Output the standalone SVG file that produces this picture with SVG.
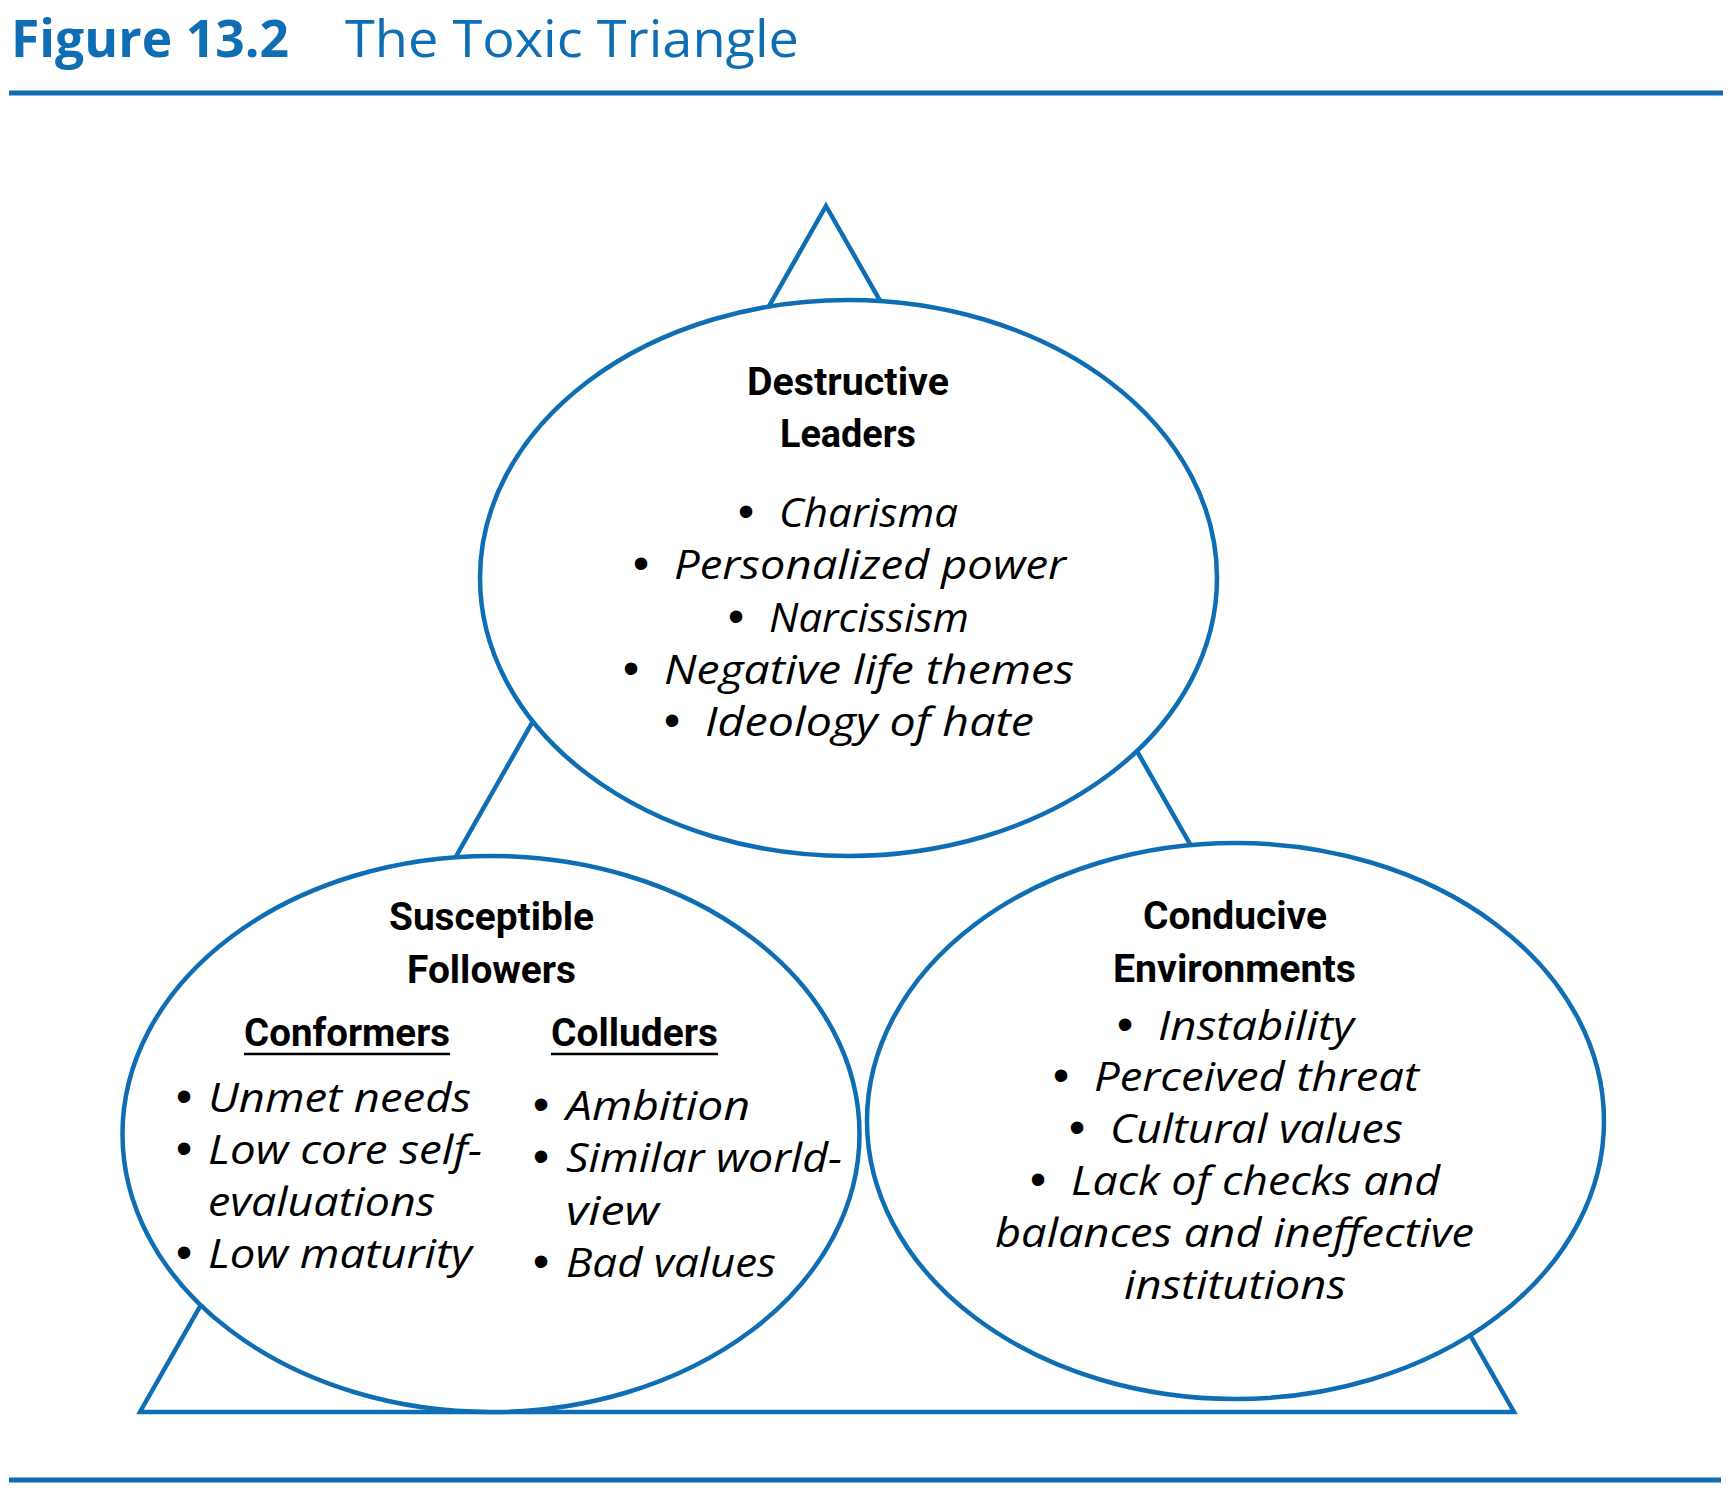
<svg xmlns="http://www.w3.org/2000/svg" width="1730" height="1490" viewBox="0 0 1730 1490">
  <style>
    .rule { stroke: #0f6db4; stroke-width: 5; }
    .title-num { font-family: "Open Sans", "Noto Sans", sans-serif; font-weight: 700; font-size: 52px; fill: #0f6db4; }
    .title-txt { font-family: "Open Sans", "Noto Sans", sans-serif; font-weight: 400; font-size: 52px; fill: #0f6db4; }
    .shape { fill: #ffffff; stroke: #0f6db4; stroke-width: 4.5; }
    .tri { fill: none; stroke: #0f6db4; stroke-width: 4.5; stroke-linejoin: miter; }
    .head { font-family: Roboto, "Liberation Sans", sans-serif; font-weight: 700; font-size: 39px; fill: #000; }
    .item { font-family: "Open Sans", "Noto Sans", sans-serif; font-style: italic; font-size: 41px; fill: #000; }
    .dot { font-family: "Liberation Sans", Arial, sans-serif; font-size: 46px; fill: #000; text-anchor: middle; }
    .ul { stroke: #000; stroke-width: 2.5; }
  </style>

  <rect width="1730" height="1490" fill="#ffffff"/>

  <!-- heading -->
  <g id="heading">
    <text class="title-num" x="11" y="57" textLength="278" lengthAdjust="spacingAndGlyphs">Figure 13.2</text>
    <text class="title-txt" x="345" y="57" textLength="454" lengthAdjust="spacingAndGlyphs">The Toxic Triangle</text>
    <line class="rule" x1="9" y1="93" x2="1723" y2="93"/>
  </g>

  <!-- triangle linking the three ellipses -->
  <g id="connectors">
    <polygon class="tri" points="826,206 1514,1412 140,1412"/>
  </g>

  <!-- top: destructive leaders -->
  <g id="node-leaders">
    <ellipse class="shape" cx="848.5" cy="578" rx="368.5" ry="278"/>
    <text class="head" x="747" y="395" textLength="202" lengthAdjust="spacingAndGlyphs">Destructive</text>
    <text class="head" x="780" y="447" textLength="136" lengthAdjust="spacingAndGlyphs">Leaders</text>
    <text class="dot" x="746" y="527">•</text>
    <text class="item" x="779" y="527" textLength="179" lengthAdjust="spacingAndGlyphs">Charisma</text>
    <text class="dot" x="641" y="579">•</text>
    <text class="item" x="674" y="579" textLength="392" lengthAdjust="spacingAndGlyphs">Personalized power</text>
    <text class="dot" x="736" y="632">•</text>
    <text class="item" x="769" y="632" textLength="200" lengthAdjust="spacingAndGlyphs">Narcissism</text>
    <text class="dot" x="631" y="684">•</text>
    <text class="item" x="664" y="684" textLength="410" lengthAdjust="spacingAndGlyphs">Negative life themes</text>
    <text class="dot" x="672" y="736">•</text>
    <text class="item" x="705" y="736" textLength="329" lengthAdjust="spacingAndGlyphs">Ideology of hate</text>
  </g>

  <!-- bottom left: susceptible followers -->
  <g id="node-followers">
    <ellipse class="shape" cx="491" cy="1134" rx="368.5" ry="278"/>
    <text class="head" x="389" y="930" textLength="205" lengthAdjust="spacingAndGlyphs">Susceptible</text>
    <text class="head" x="407" y="983" textLength="169" lengthAdjust="spacingAndGlyphs">Followers</text>

    <text class="head" x="244" y="1046" textLength="206" lengthAdjust="spacingAndGlyphs">Conformers</text>
    <line class="ul" x1="244" y1="1054" x2="450" y2="1054"/>
    <text class="head" x="551" y="1046" textLength="167" lengthAdjust="spacingAndGlyphs">Colluders</text>
    <line class="ul" x1="551" y1="1054" x2="718" y2="1054"/>

    <text class="dot" x="184" y="1112">•</text>
    <text class="item" x="208" y="1112" textLength="263" lengthAdjust="spacingAndGlyphs">Unmet needs</text>
    <text class="dot" x="184" y="1164">•</text>
    <text class="item" x="208" y="1164" textLength="274" lengthAdjust="spacingAndGlyphs">Low core self-</text>
    <text class="item" x="208" y="1216" textLength="227" lengthAdjust="spacingAndGlyphs">evaluations</text>
    <text class="dot" x="184" y="1268">•</text>
    <text class="item" x="208" y="1268" textLength="264" lengthAdjust="spacingAndGlyphs">Low maturity</text>

    <text class="dot" x="541" y="1120">•</text>
    <text class="item" x="566" y="1120" textLength="184" lengthAdjust="spacingAndGlyphs">Ambition</text>
    <text class="dot" x="541" y="1172">•</text>
    <text class="item" x="566" y="1172" textLength="276" lengthAdjust="spacingAndGlyphs">Similar world-</text>
    <text class="item" x="566" y="1225" textLength="93" lengthAdjust="spacingAndGlyphs">view</text>
    <text class="dot" x="541" y="1277">•</text>
    <text class="item" x="566" y="1277" textLength="210" lengthAdjust="spacingAndGlyphs">Bad values</text>
  </g>

  <!-- bottom right: conducive environments -->
  <g id="node-environments">
    <ellipse class="shape" cx="1235.5" cy="1121" rx="368.5" ry="278"/>
    <text class="head" x="1143" y="929" textLength="184" lengthAdjust="spacingAndGlyphs">Conducive</text>
    <text class="head" x="1113" y="982" textLength="243" lengthAdjust="spacingAndGlyphs">Environments</text>
    <text class="dot" x="1125" y="1040">•</text>
    <text class="item" x="1158" y="1040" textLength="196" lengthAdjust="spacingAndGlyphs">Instability</text>
    <text class="dot" x="1061" y="1091">•</text>
    <text class="item" x="1094" y="1091" textLength="325" lengthAdjust="spacingAndGlyphs">Perceived threat</text>
    <text class="dot" x="1077" y="1143">•</text>
    <text class="item" x="1110" y="1143" textLength="293" lengthAdjust="spacingAndGlyphs">Cultural values</text>
    <text class="dot" x="1038" y="1195">•</text>
    <text class="item" x="1071" y="1195" textLength="369" lengthAdjust="spacingAndGlyphs">Lack of checks and</text>
    <text class="item" x="995" y="1247" textLength="479" lengthAdjust="spacingAndGlyphs">balances and ineffective</text>
    <text class="item" x="1124" y="1299" textLength="222" lengthAdjust="spacingAndGlyphs">institutions</text>
  </g>

  <line class="rule" x1="9" y1="1480" x2="1721" y2="1480"/>
</svg>
